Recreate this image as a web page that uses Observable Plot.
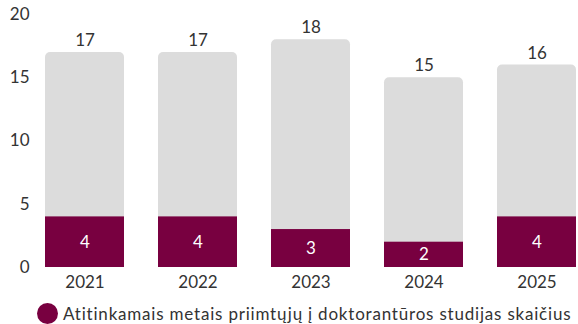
<!DOCTYPE html>
<html><head><meta charset="utf-8">
<script src="https://cdn.jsdelivr.net/npm/d3@7"></script>
<script src="https://cdn.jsdelivr.net/npm/@observablehq/plot@0.6"></script>
<style>
body{margin:0;background:#fff;font-family:Lato,"Noto Sans",sans-serif;}
#legend{display:flex;align-items:center;margin-left:37px;margin-top:7px;font-size:17px;letter-spacing:0.8px;color:#333;white-space:nowrap;}
#legend .dot{display:inline-block;width:21px;height:21px;border-radius:50%;background:#780040;margin-right:5px;}
</style></head>
<body>
<div id="chart"></div>
<div id="legend"><span class="dot"></span><span id="legtext"></span></div>
<script>
const years = ["2021","2022","2023","2024","2025"];
const totals = [17,17,18,15,16];
const admitted = [4,4,3,2,4];
const yTicks = [0,5,10,15,20];
const legendLabel = "Atitinkamais metais priimtųjų į doktorantūros studijas skaičius";

const data = years.map((y,i)=>({year:y,total:totals[i],adm:admitted[i]}));
const red = "#780040";
const plot = Plot.plot({
  width:578, height:296,
  marginLeft:43, marginRight:0, marginTop:14, marginBottom:29,
  style:{fontFamily:"Lato, 'Noto Sans', sans-serif", fontSize:"17px", color:"#333", background:"#fff"},
  x:{domain:years, paddingInner:0.3, paddingOuter:0, label:null, tickSize:0, tickPadding:8},
  y:{domain:[0,20], ticks:yTicks, label:null, tickSize:0, tickPadding:14},
  marks:[
    Plot.barY(data,{x:"year", y:"total", fill:"#dcdcdc", rx:5}),
    Plot.barY(data,{x:"year", y:"adm", fill:red}),
    Plot.text(data,{x:"year", y:"total", text:d=>String(d.total), dy:-12, fill:"#333", fontSize:17}),
    Plot.text(data,{x:"year", y:d=>d.adm/2, text:d=>String(d.adm), fill:"#fff", fontSize:17})
  ]
});
document.getElementById("chart").appendChild(plot);
document.getElementById("legtext").textContent = legendLabel;
</script>
</body></html>
